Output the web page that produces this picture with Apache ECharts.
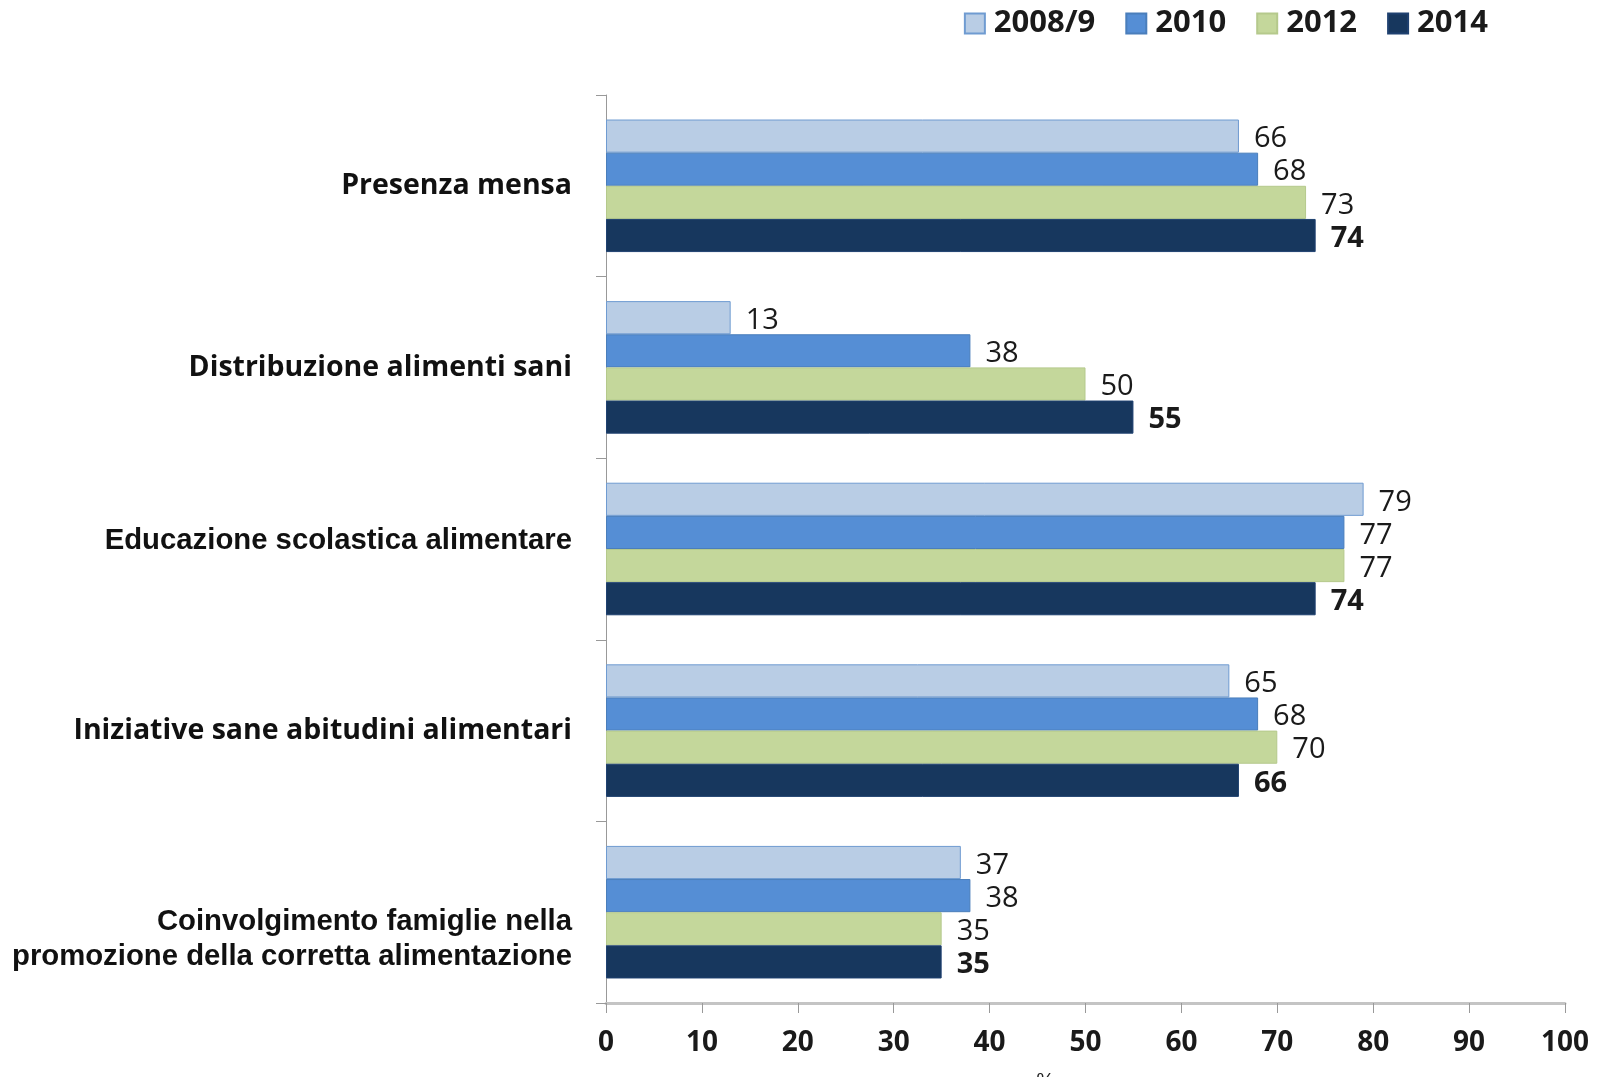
<!DOCTYPE html>
<html>
<head>
<meta charset="utf-8">
<script src="https://cdn.jsdelivr.net/npm/echarts@6/dist/echarts.min.js"></script>
<style>
html, body { margin: 0; padding: 0; background: #fff; }
#main { width: 1600px; height: 1077px; }
</style>
</head>
<body>
<div id="main"></div>
<script>
var categories = [
    'Presenza mensa',
    'Distribuzione alimenti sani',
    'Educazione scolastica alimentare',
    'Iniziative sane abitudini alimentari',
    'Coinvolgimento famiglie nella\npromozione della corretta alimentazione'
];
var years = ['2008/9', '2010', '2012', '2014'];
var v2008 = [66, 13, 79, 65, 37];
var v2010 = [68, 38, 77, 68, 38];
var v2012 = [73, 50, 77, 70, 35];
var v2014 = [74, 55, 74, 66, 35];
var xTicks = [0, 10, 20, 30, 40, 50, 60, 70, 80, 90, 100];

var colors = ['#b9cde5', '#558ed5', '#c4d79b', '#17375e'];
var borders = ['#6f9bd1', '#4a7ebb', '#b5c98c', '#1f4170'];

var myChart = echarts.init(document.getElementById('main'));

function makeSeries(name, data, i) {
    return {
        name: name,
        type: 'bar',
        data: data,
        barGap: '0%',
        barCategoryGap: '27%',
        itemStyle: {
            color: colors[i],
            borderColor: borders[i],
            borderWidth: 1
        },
        label: {
            show: true,
            position: 'right',
            distance: 15,
            offset: [0, 3],
            color: '#1a1a1a',
            fontFamily: 'Open Sans',
            fontSize: 29,
            fontWeight: i === 3 ? 'bold' : 'normal'
        }
    };
}

var option = {
    animation: false,
    legend: {
        data: years,
        right: 107,
        top: 3,
        itemWidth: 20,
        itemHeight: 20,
        itemGap: 30,
        icon: 'rect',
        textStyle: {
            fontFamily: 'Open Sans',
            fontWeight: 'bold',
            fontSize: 31,
            color: '#1a1a1a',
            padding: [0, 0, 0, 4]
        },
        itemStyle: { borderWidth: 2 }
    },
    grid: {
        left: 606,
        right: 35,
        top: 95,
        bottom: 74,
        outerBoundsMode: 'none'
    },
    xAxis: {
        type: 'value',
        min: 0,
        max: 100,
        interval: 10,
        name: '%',
        nameLocation: 'middle',
        nameGap: 68,
        nameTextStyle: {
            fontFamily: 'Liberation Sans',
            fontSize: 20,
            color: '#222',
            padding: [0, 80, 0, 0]
        },
        splitLine: { show: false },
        axisLine: { show: true, lineStyle: { color: '#c4c4c4', width: 3 } },
        axisTick: { show: true, length: 10, lineStyle: { color: '#999', width: 1 } },
        axisLabel: {
            margin: 26,
            fontFamily: 'Open Sans',
            fontWeight: 'bold',
            fontSize: 28,
            color: '#1a1a1a',
            formatter: function (v) { return xTicks.indexOf(v) >= 0 ? String(v) : ''; }
        }
    },
    yAxis: {
        type: 'category',
        data: categories,
        inverse: true,
        axisLine: { show: true, lineStyle: { color: '#999', width: 1 } },
        axisTick: { show: true, length: 10, lineStyle: { color: '#999' } },
        axisLabel: {
            margin: 34,
            color: '#111',
            fontFamily: 'Open Sans',
            fontWeight: 'bold',
            fontSize: 28.5,
            formatter: function (v, idx) {
                if (idx === 2) return '{a|' + v + '}\n{s2| }';
                if (idx === 4) {
                    var parts = v.split('\n');
                    return '{s| }\n{b|' + parts[0] + '}\n{b|' + parts[1] + '}';
                }
                return v;
            },
            rich: {
                a: {
                    fontFamily: 'Liberation Sans',
                    fontWeight: 'bold',
                    fontSize: 29.3,
                    lineHeight: 35,
                    color: '#111'
                },
                s: { fontSize: 10, lineHeight: 54 },
                s2: { fontSize: 10, lineHeight: 16 },
                b: {
                    fontFamily: 'Liberation Sans',
                    fontWeight: 'bold',
                    fontSize: 29.3,
                    lineHeight: 35,
                    color: '#111'
                }
            }
        }
    },
    series: [
        makeSeries(years[0], v2008, 0),
        makeSeries(years[1], v2010, 1),
        makeSeries(years[2], v2012, 2),
        makeSeries(years[3], v2014, 3)
    ]
};

myChart.setOption(option);
</script>
</body>
</html>
